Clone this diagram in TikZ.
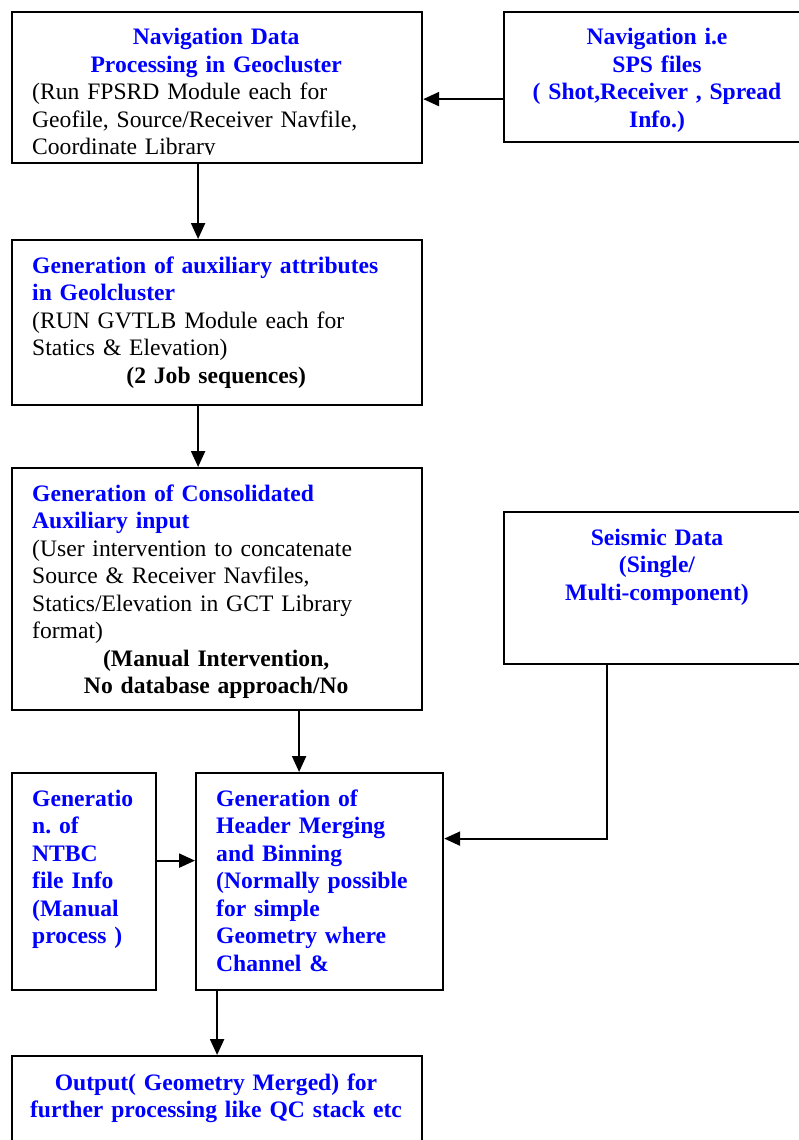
\documentclass[tikz,border=0pt]{standalone}
\usepackage{fontspec}
\setmainfont{Liberation Serif}
\usetikzlibrary{arrows.meta}
\frenchspacing

\tikzset{
  box/.style={draw, line width=2.2pt, anchor=north west, inner sep=0pt},
  txt/.style={inner sep=0pt, align=left, font=\fontsize{23.6}{27.5}\selectfont},
  ttl/.style={inner sep=0pt, text=blue, font=\fontsize{23.6}{27.5}\selectfont\bfseries},
  arr/.style={-{Triangle[length=16pt,width=14pt]}, line width=2.2pt},
}

\begin{document}
\begin{tikzpicture}[x=1pt,y=1pt]
\useasboundingbox (0,0) rectangle (798,-1140);

% boxes
\node[box, minimum width=410pt, minimum height=151pt] (nav) at (11,-11) {};
\node[box, minimum width=308pt, minimum height=130pt] (sps) at (503,-11) {};
\node[box, minimum width=410pt, minimum height=165pt] (aux) at (11,-239) {};
\node[box, minimum width=410pt, minimum height=242pt] (cons) at (11,-467) {};
\node[box, minimum width=308pt, minimum height=152pt] (seis) at (503,-511) {};
\node[box, minimum width=144pt, minimum height=217pt] (ntbc) at (11,-772) {};
\node[box, minimum width=247pt, minimum height=217pt] (hdr) at (195,-772) {};
\node[box, minimum width=410pt, minimum height=120pt] (out) at (11,-1055) {};

% texts
\begin{scope}
\clip ([yshift=10pt]nav.south west) rectangle (nav.north east);
\node[txt, text width=368pt, anchor=base west] (navtxt) at (32,-45)
  {{\centering\bfseries\color{blue}Navigation Data\\Processing in Geocluster\par}
   (Run FPSRD Module each for\\Geofile, Source/Receiver Navfile,\\Coordinate Library};
\end{scope}

\node[ttl, text width=300pt, align=center, anchor=base] (spstxt) at (657,-45)
  {Navigation i.e\\SPS files\\( Shot,Receiver , Spread\\Info.)};

\node[txt, text width=368pt, anchor=base west] (auxtxt) at (32,-273)
  {{\bfseries\color{blue}Generation of auxiliary attributes\\in Geolcluster\par}
   (RUN GVTLB Module each for\\Statics \& Elevation)\par
   {\centering\bfseries (2 Job sequences)\par}};

\node[txt, text width=368pt, anchor=base west] (constxt) at (32,-501)
  {{\bfseries\color{blue}Generation of Consolidated\\Auxiliary input\par}
   (User intervention to concatenate\\Source \& Receiver Navfiles,\\Statics/Elevation in GCT Library\\format)\par
   {\centering\bfseries (Manual Intervention,\\No database approach/No\par}};

\node[ttl, text width=300pt, align=center, anchor=base] (seistxt) at (657,-545)
  {Seismic Data\\(Single/\\Multi-component)};

\node[ttl, text width=120pt, align=left, anchor=base west] (ntbctxt) at (32,-806)
  {Generatio\\n. of\\NTBC\\file Info\\(Manual\\process )};

\node[ttl, text width=224pt, align=left, anchor=base west] (hdrtxt) at (216,-806)
  {Generation of\\Header Merging\\and Binning\\(Normally possible\\for simple\\Geometry where\\Channel \&};

\node[ttl, text width=400pt, align=center, anchor=base] (outtxt) at (216,-1090)
  {Output( Geometry Merged) for\\further processing like QC stack etc};

% connectors
\draw[arr] ([yshift=-22pt]sps.west) -- ([yshift=-22pt]sps.west -| nav.east);
\draw[arr] ([xshift=-19pt]nav.south) -- ([xshift=-19pt]nav.south |- aux.north);
\draw[arr] ([xshift=-19pt]aux.south) -- ([xshift=-19pt]aux.south |- cons.north);
\draw[arr] ([xshift=82pt]cons.south) -- ([xshift=82pt]cons.south |- hdr.north);
\draw[arr] ([yshift=21pt]ntbc.east) -- ([yshift=21pt]ntbc.east -| hdr.west);
\draw[arr] ([xshift=-51pt]seis.south) |- ([yshift=43pt]hdr.east);
\draw[arr] (hdr.south -| out.north) -- (out.north);

\end{tikzpicture}
\end{document}
